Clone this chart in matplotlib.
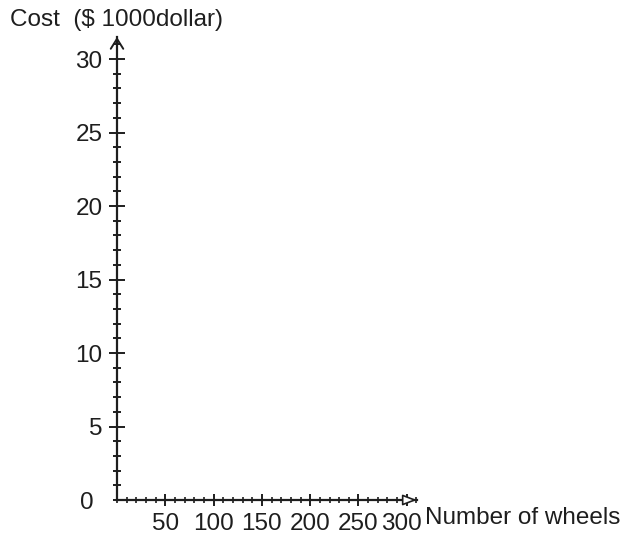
import matplotlib.pyplot as plt
import matplotlib.transforms as mtransforms
from matplotlib.ticker import MultipleLocator

plt.rcParams['font.family'] = ['Liberation Sans', 'DejaVu Sans']

# axis setup
x_ticks = [50, 100, 150, 200, 250, 300]
y_ticks = [5, 10, 15, 20, 25, 30]
x_label = "Number of wheels"
y_label = "Cost  ($ 1000dollar)"

fig = plt.figure(figsize=(6.24, 5.35), dpi=100)
W, H = 624, 535
x0, y0 = 117, 500
px_x = 48.3 / 50
px_y = 441 / 30
xmax, ymax = 310.5, 31.5
ax = fig.add_axes([x0 / W, (H - y0) / H, xmax * px_x / W, ymax * px_y / H])
ax.set_xlim(0, xmax)
ax.set_ylim(0, ymax)

ink = "#1e1e1e"
for s in ["top", "right"]:
    ax.spines[s].set_visible(False)
for s in ["left", "bottom"]:
    ax.spines[s].set_linewidth(1.6)
    ax.spines[s].set_color(ink)

ax.set_xticks(x_ticks)
ax.set_yticks(y_ticks)
ax.xaxis.set_minor_locator(MultipleLocator(10))
ax.yaxis.set_minor_locator(MultipleLocator(1))
ax.tick_params(axis="both", which="major", direction="inout", width=1.4,
               colors=ink, labelsize=17.5, labelcolor=ink)
ax.tick_params(axis="y", which="major", length=11, pad=5)
ax.tick_params(axis="x", which="major", length=9, pad=5)
ax.tick_params(axis="y", which="minor", direction="inout", length=6, width=1.4, colors=ink)
ax.tick_params(axis="x", which="minor", direction="inout", length=5, width=1.2, colors=ink)

# the last label sits a bit left of its tick, clear of the axis title
shift = mtransforms.ScaledTranslation(-5 / 100, 0, fig.dpi_scale_trans)
ax.get_xticklabels()[-1].set_transform(ax.get_xticklabels()[-1].get_transform() + shift)

# origin label sits a little below the axis line
ax.annotate("0", xy=(0, 0), xytext=(-30, -3), textcoords="offset pixels",
            ha="center", va="center", fontsize=17.5, color=ink, annotation_clip=False)

# arrows on the axis ends
ax.annotate("", xy=(0, ymax), xytext=(0, ymax - 2),
            arrowprops=dict(arrowstyle="->,head_length=0.72,head_width=0.45", lw=1.4,
                            color=ink, shrinkA=0, shrinkB=0),
            annotation_clip=False)
ax.annotate("", xy=(xmax, 0), xytext=(xmax - 14, 0),
            arrowprops=dict(arrowstyle="-|>,head_length=0.86,head_width=0.33", lw=1.2,
                            edgecolor=ink, facecolor="white", shrinkA=0, shrinkB=0),
            annotation_clip=False)

fig.text(10 / W, 1 - 20 / H, y_label, fontsize=17.5, va="center", ha="left", color=ink)
fig.text(425 / W, 1 - 518 / H, x_label, fontsize=17.5, va="center", ha="left", color=ink)

fig.savefig("out.png", dpi=100)
